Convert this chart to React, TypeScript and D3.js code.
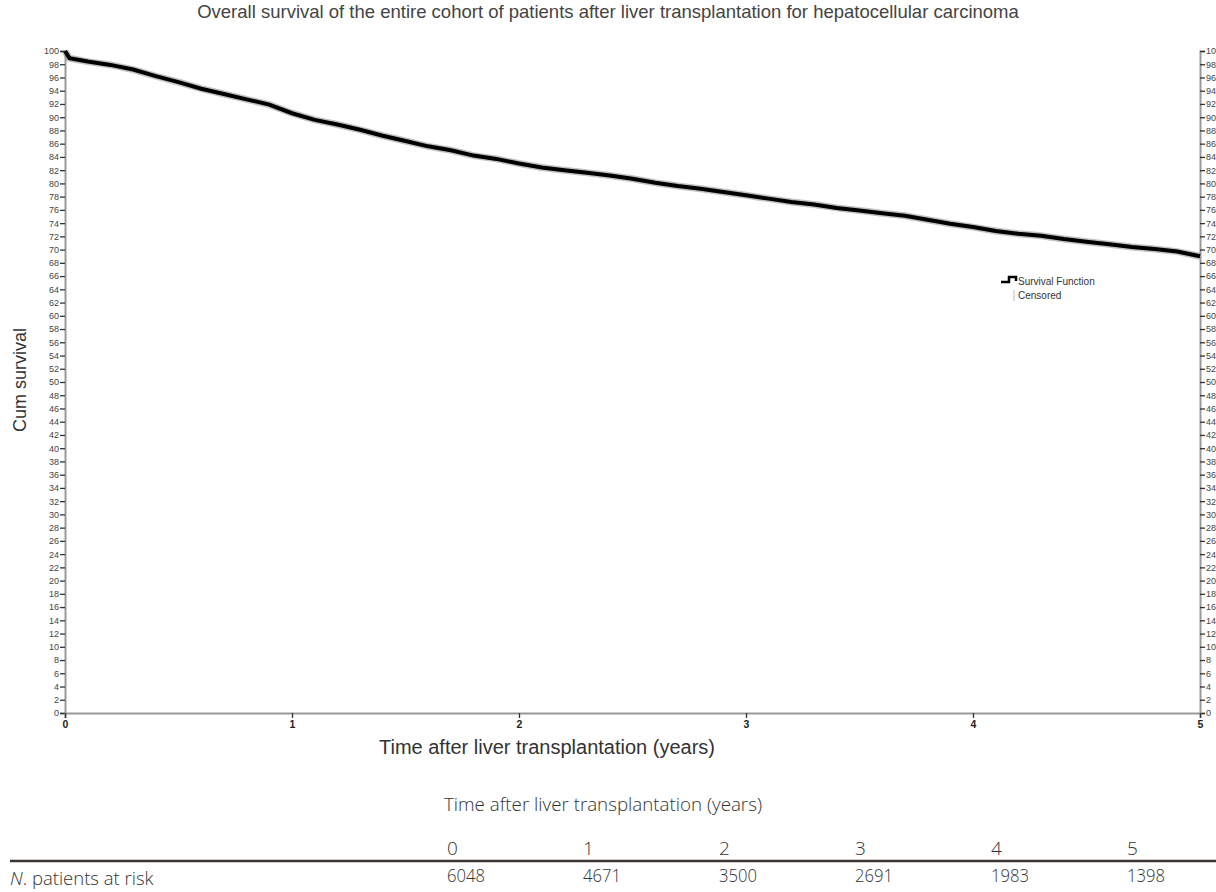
import React, { useEffect, useRef } from "react";
import * as d3 from "d3";

// Kaplan-Meier estimate (years, cum survival %)
const times = [
  0, 0.02, 0.1, 0.2, 0.3, 0.4, 0.5, 0.6, 0.7, 0.8, 0.9, 1.0, 1.1, 1.2, 1.3,
  1.4, 1.5, 1.6, 1.7, 1.8, 1.9, 2.0, 2.1, 2.2, 2.3, 2.4, 2.5, 2.6, 2.7, 2.8,
  2.9, 3.0, 3.1, 3.2, 3.3, 3.4, 3.5, 3.6, 3.7, 3.8, 3.9, 4.0, 4.1, 4.2, 4.3,
  4.4, 4.5, 4.6, 4.7, 4.8, 4.9, 5.0,
];
const survival = [
  100, 98.9, 98.4, 97.9, 97.2, 96.2, 95.3, 94.3, 93.5, 92.7, 91.9, 90.6, 89.6,
  88.9, 88.1, 87.2, 86.4, 85.6, 85.0, 84.2, 83.7, 83.0, 82.4, 82.0, 81.6, 81.2,
  80.7, 80.1, 79.6, 79.2, 78.7, 78.2, 77.7, 77.2, 76.8, 76.3, 75.9, 75.5, 75.1,
  74.5, 73.9, 73.4, 72.8, 72.4, 72.1, 71.6, 71.2, 70.8, 70.4, 70.1, 69.7, 69.0,
];

const yearTicks = [0, 1, 2, 3, 4, 5];
const atRisk = [6048, 4671, 3500, 2691, 1983, 1398];

const title =
  "Overall survival of the entire cohort of patients after liver transplantation for hepatocellular carcinoma";
const xTitle = "Time after liver transplantation (years)";
const yTitle = "Cum survival";

const App: React.FC = () => {
  const svgRef = useRef<SVGSVGElement>(null);

  useEffect(() => {
    if (!svgRef.current) return;
    const svg = d3.select(svgRef.current);
    svg.selectAll("*").remove();

    const width = 1216;
    const height = 892;
    const left = 65;
    const right = 1200;
    const top = 51;
    const bottom = 713;
    const font = "'Liberation Sans', Arial, sans-serif";
    const tableFont = "'Open Sans', sans-serif";

    svg.attr("width", width).attr("height", height);

    const x = d3.scaleLinear().domain([0, 5]).range([left, right]);
    const y = d3.scaleLinear().domain([0, 100]).range([bottom, top]);

    const yTicks = d3.range(0, 101, 2);

    // title
    svg
      .append("text")
      .attr("x", 608)
      .attr("y", 18)
      .attr("text-anchor", "middle")
      .style("font-family", font)
      .style("font-size", "18.5px")
      .style("fill", "#444")
      .text(title);

    const styleAxis = (g: d3.Selection<SVGGElement, unknown, null, undefined>, size: string) => {
      g.select(".domain").attr("stroke", "#999").attr("stroke-width", 2);
      g.selectAll(".tick line").attr("stroke", "#333").attr("stroke-width", 1.3);
      g.selectAll(".tick text")
        .style("font-family", font)
        .style("font-size", size)
        .style("fill", "#444");
    };

    // left axis
    const leftAxis = svg
      .append("g")
      .attr("transform", `translate(${left},0)`)
      .call(d3.axisLeft(y).tickValues(yTicks).tickSize(5).tickPadding(1));
    styleAxis(leftAxis, "9px");

    // right axis
    const rightAxis = svg
      .append("g")
      .attr("transform", `translate(${right},0)`)
      .call(d3.axisRight(y).tickValues(yTicks).tickSize(5).tickPadding(1));
    styleAxis(rightAxis, "9px");

    // bottom axis
    const bottomAxis = svg
      .append("g")
      .attr("transform", `translate(0,${bottom})`)
      .call(
        d3
          .axisBottom(x)
          .tickValues(yearTicks)
          .tickFormat(d3.format("d"))
          .tickSize(5)
          .tickPadding(3)
      );
    styleAxis(bottomAxis, "10.5px");
    bottomAxis
      .selectAll(".tick text")
      .style("font-weight", "bold")
      .style("fill", "#222");

    // axis titles
    svg
      .append("text")
      .attr("x", 547)
      .attr("y", 754)
      .attr("text-anchor", "middle")
      .style("font-family", font)
      .style("font-size", "20px")
      .style("fill", "#333")
      .text(xTitle);

    svg
      .append("text")
      .attr("transform", `translate(26,380) rotate(-90)`)
      .attr("text-anchor", "middle")
      .style("font-family", font)
      .style("font-size", "18px")
      .style("fill", "#333")
      .text(yTitle);

    // survival curve
    const data = times.map((t, i) => ({ t, s: survival[i] }));
    const line = d3
      .line<{ t: number; s: number }>()
      .x((d) => x(d.t))
      .y((d) => y(d.s));

    svg
      .append("path")
      .datum(data)
      .attr("d", line)
      .attr("fill", "none")
      .attr("stroke", "#777")
      .attr("stroke-opacity", 0.45)
      .attr("stroke-width", 7);
    svg
      .append("path")
      .datum(data)
      .attr("d", line)
      .attr("fill", "none")
      .attr("stroke", "#000")
      .attr("stroke-width", 4);

    // legend
    const lg = svg.append("g").attr("transform", "translate(1001,282)");
    lg.append("path")
      .attr("d", "M0,0 H8 V-5 H15 V-1")
      .attr("fill", "none")
      .attr("stroke", "#000")
      .attr("stroke-width", 2.5);
    lg.append("text")
      .attr("x", 17)
      .attr("y", 3)
      .style("font-family", font)
      .style("font-size", "10px")
      .style("fill", "#333")
      .text("Survival Function");
    lg.append("line")
      .attr("x1", 13)
      .attr("x2", 13)
      .attr("y1", 8)
      .attr("y2", 19)
      .attr("stroke", "#bbb")
      .attr("stroke-width", 1);
    lg.append("text")
      .attr("x", 17)
      .attr("y", 17)
      .style("font-family", font)
      .style("font-size", "10px")
      .style("fill", "#333")
      .text("Censored");

    // at-risk table
    const colX = d3.scaleLinear().domain([0, 5]).range([447, 1127]);
    svg
      .append("text")
      .attr("x", 444)
      .attr("y", 811)
      .style("font-family", tableFont)
      .style("font-weight", 300)
      .style("font-size", "18px")
      .style("fill", "#333")
      .attr("textLength", 318)
      .attr("lengthAdjust", "spacingAndGlyphs")
      .text(xTitle);

    svg
      .selectAll(".yr")
      .data(yearTicks)
      .enter()
      .append("text")
      .attr("x", (d) => colX(d))
      .attr("y", 855)
      .style("font-family", tableFont)
      .style("font-weight", 300)
      .style("font-size", "19px")
      .style("fill", "#333")
      .text((d) => d);

    svg
      .append("line")
      .attr("x1", 10)
      .attr("x2", 1216)
      .attr("y1", 861)
      .attr("y2", 861)
      .attr("stroke", "#3a3530")
      .attr("stroke-width", 2.5);

    svg
      .selectAll(".risk")
      .data(atRisk)
      .enter()
      .append("text")
      .attr("x", (_, i) => colX(yearTicks[i]))
      .attr("y", 882)
      .style("font-family", tableFont)
      .style("font-weight", 300)
      .style("font-size", "19px")
      .style("fill", "#333")
      .attr("textLength", 38)
      .attr("lengthAdjust", "spacingAndGlyphs")
      .text((d) => d);

    const rl = svg
      .append("text")
      .attr("x", 10)
      .attr("y", 885)
      .style("font-family", tableFont)
      .style("font-weight", 300)
      .style("font-size", "18.5px")
      .style("fill", "#333");
    rl.append("tspan").style("font-style", "italic").text("N");
    rl.append("tspan").text(". patients at risk");
  }, []);

  return (
    <svg
      ref={svgRef}
      style={{ position: "absolute", left: 0, top: 0, background: "#fff" }}
    />
  );
};

export default App;
